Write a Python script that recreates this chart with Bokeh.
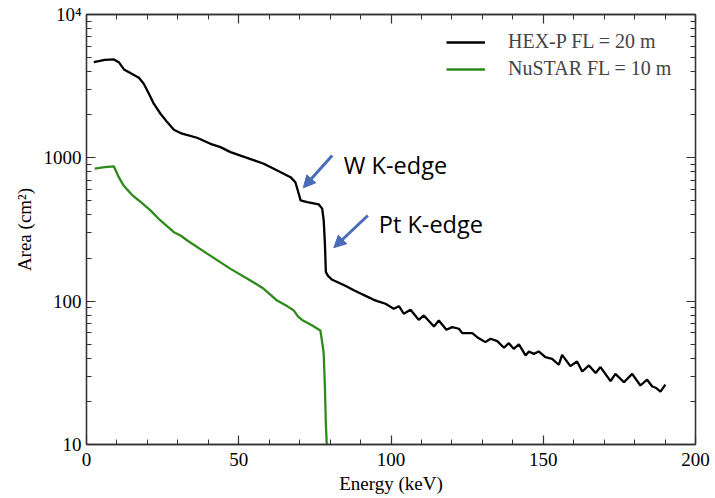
from bokeh.plotting import figure
from bokeh.models import (Range1d, FixedTicker, LinearAxis, Label, Arrow,
                          NormalHead, CustomJSTickFormatter)
from bokeh.embed import file_html
from bokeh.resources import INLINE

# ---------------- data ----------------
hexp_energy = [2.4, 6.0, 9.0, 10.6, 12.3, 14.4, 17.2, 18.8, 20.5, 22.1, 24.3, 26.5, 28.7, 31.4,
               36.3, 40.7, 44.0, 47.3, 52.0, 58.2, 62.5, 67.0, 68.6, 69.7, 70.3, 72.5, 76.3,
               77.4, 77.9, 78.3, 78.6, 79.3, 80.7, 83.0, 85.0, 87.8, 90.0, 92.0, 94.0, 95.5, 98.2,
               100.9, 102.6, 104.2, 106.4, 109.1, 110.8, 114.1, 115.7, 118.2, 120.1, 122.3,
               123.4, 126.7, 128.3, 131.0, 132.7, 134.9, 137.1, 138.7, 140.3, 142.0, 144.2,
               145.3, 146.9, 148.5, 150.7, 152.9, 155.1, 156.2, 158.9, 161.1, 162.8, 165.0,
               167.2, 168.8, 172.1, 173.7, 176.5, 179.2, 181.9, 184.1, 185.8, 186.9, 188.5,
               190.1]
hexp_area = [4660, 4820, 4860, 4650, 4140, 3900, 3620, 3290, 2800, 2385, 2030, 1775, 1570, 1473,
             1381, 1253, 1188, 1096, 1012, 909, 818, 733, 676, 562, 505, 491, 473,
             442, 366, 250, 160, 150, 141, 134, 128, 119, 113, 108, 103, 100, 95.9,
             88.5, 92.3, 81.7, 87.1, 74.1, 79.5, 66.6, 73.3, 63.1, 65.9, 64.2,
             59.8, 59.8, 56.1, 51.8, 54.7, 52.6, 47.3, 50.9, 46.5, 49.9, 41.8,
             44.6, 42.9, 44.6, 40.7, 39.6, 36.0, 42.2, 35.2, 37.9, 32.3, 35.6,
             31.5, 34.7, 27.7, 31.1, 27.2, 31.1, 25.8, 28.3, 25.4, 24.9, 23.4,
             26.2]

nustar_energy = [2.7, 6.0, 9.0, 10.6, 12.0, 13.4, 15.0, 17.2, 21.0, 24.0, 28.7, 30.9, 33.1,
                 40.0, 47.3, 53.0, 58.2, 62.6, 66.0, 68.1, 69.5, 70.8, 74.0, 76.8, 77.5,
                 77.9, 78.3, 78.6, 79.0]
nustar_area = [840, 860, 871, 733, 650, 600, 550, 504, 430, 370, 303, 287, 265,
               212, 168, 143, 122, 101, 92, 86, 78, 74, 68, 62.5, 50,
               43, 25, 14, 9]

x_ticks = [0, 50, 100, 150, 200]
y_ticks = [10, 100, 1000, 10000]
y_tick_labels = {10: "10", 100: "100", 1000: "1000", 10000: "10\u2074"}
legend_labels = ["HEX-P FL = 20 m", "NuSTAR FL = 10 m"]

# annotation anchors (data coords)
w_text = (84.5, 885, "W K-edge")
pt_text = (96.0, 347, "Pt K-edge")
w_arrow = (80.7, 1040, 71.2, 618)
pt_arrow = (92.4, 396, 81.2, 236)

# ---------------- figure ----------------
SERIF = "Liberation Serif"
AX = "#333333"

p = figure(width=715, height=498, x_range=Range1d(0, 200), y_range=Range1d(10, 10000),
           y_axis_type="log", output_backend="svg", toolbar_location=None,
           min_border_left=86, min_border_right=20, min_border_top=14, min_border_bottom=54)
p.grid.visible = False
p.outline_line_color = AX
p.outline_line_width = 1.3

minor_y = [m * 10 ** d for d in range(1, 4) for m in range(2, 10)]

def style(ax):
    ax.axis_line_color = AX
    ax.axis_line_width = 1.3
    ax.major_tick_line_color = AX
    ax.minor_tick_line_color = AX
    ax.major_tick_line_width = 1.2
    ax.minor_tick_line_width = 1.0
    ax.major_tick_in = 9
    ax.major_tick_out = 0
    ax.minor_tick_in = 5
    ax.minor_tick_out = 0
    ax.major_label_text_font = SERIF
    ax.major_label_text_font_size = "19px"
    ax.major_label_text_color = "black"
    ax.axis_label_text_font = SERIF
    ax.axis_label_text_font_size = "19px"
    ax.axis_label_text_font_style = "normal"
    ax.axis_label_text_color = "black"

xt = FixedTicker(ticks=x_ticks, minor_ticks=list(range(0, 201, 10)))
yt = FixedTicker(ticks=y_ticks, minor_ticks=minor_y)

xa = p.xaxis[0]
xa.ticker = xt
style(xa)
xa.axis_label = "Energy (keV)"
xa.major_label_standoff = 8
xa.axis_label_standoff = 4

ya = p.yaxis[0]
ya.ticker = yt
style(ya)
ya.axis_label = "Area (cm\u00b2)"
ya.major_label_overrides = y_tick_labels
ya.major_label_standoff = 5
ya.axis_label_standoff = 6

blank = CustomJSTickFormatter(code="return ' ';")

top = LinearAxis(ticker=xt, formatter=blank)
style(top)
top.major_label_text_font_size = "2px"
top.major_label_text_alpha = 0
top.major_label_standoff = 0
p.add_layout(top, "above")

right = LinearAxis(ticker=yt, formatter=blank)
style(right)
right.major_label_text_font_size = "2px"
right.major_label_text_alpha = 0
right.major_label_standoff = 0
p.add_layout(right, "right")

p.line(hexp_energy, hexp_area, line_color="black", line_width=2.3, legend_label=legend_labels[0])
p.line(nustar_energy, nustar_area, line_color="#2f8a1c", line_width=2.3, legend_label=legend_labels[1])

lg = p.legend[0]
lg.location = (360, 364)
lg.border_line_color = None
lg.background_fill_alpha = 0
lg.padding = 0
lg.margin = 0
lg.spacing = 4
lg.glyph_width = 39
lg.glyph_height = 20
lg.label_height = 20
lg.label_standoff = 23
lg.label_text_font = SERIF
lg.label_text_font_size = "20px"

ARROW_C = "#4a6cb8"
for (x0, y0, x1, y1) in (w_arrow, pt_arrow):
    p.add_layout(Arrow(x_start=x0, y_start=y0, x_end=x1, y_end=y1, line_color=ARROW_C,
                       line_width=3,
                       end=NormalHead(size=12, fill_color=ARROW_C, line_color=ARROW_C)))

for (x, y, t) in (w_text, pt_text):
    p.add_layout(Label(x=x, y=y, text=t, text_font="Open Sans", text_font_size="23.5px",
                       text_color="black", text_baseline="alphabetic", text_align="left"))

open("out.html", "w").write(file_html(p, INLINE))
